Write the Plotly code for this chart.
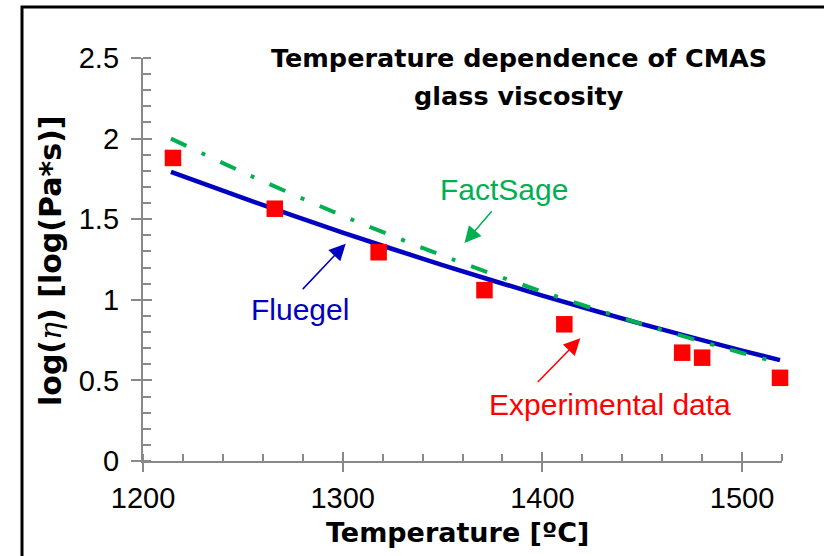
import plotly.graph_objects as go

# Measured viscosity of the CMAS glass
exp_temp = [1215, 1266, 1318, 1371, 1411, 1470, 1480, 1519]
exp_logeta = [1.88, 1.565, 1.295, 1.06, 0.848, 0.672, 0.641, 0.516]

# Fluegel model curve
fluegel_temp = [1214, 1250, 1300, 1350, 1400, 1450, 1500, 1519]
fluegel_logeta = [1.794, 1.632, 1.417, 1.215, 1.026, 0.849, 0.685, 0.626]

# FactSage model curve
factsage_temp = [1214, 1250, 1300, 1350, 1400, 1450, 1500, 1518]
factsage_logeta = [2.0, 1.791, 1.521, 1.274, 1.05, 0.849, 0.67, 0.612]

x_range = [1200, 1520]
y_range = [0, 2.5]

# Plot-area geometry in pixels
W, H = 824, 556
ML, MR, MT, MB = 143, 42, 58, 95
PW, PH = W - ML - MR, H - MT - MB


def px(x):
    return (x - ML) / PW


def py(y):
    return (H - MB - y) / PH


AXIS_GREY = "#898989"
BLUE = "#0000C0"
GREEN = "#00B050"
RED = "#FF0000"
REG = "Liberation Sans, Arial, sans-serif"
BOLD = "DejaVu Sans, sans-serif"

fig = go.Figure()

fig.add_trace(go.Scatter(
    x=fluegel_temp, y=fluegel_logeta, mode="lines", name="Fluegel",
    line=dict(color=BLUE, width=4.5, shape="spline", smoothing=0.6),
    cliponaxis=False,
))
fig.add_trace(go.Scatter(
    x=factsage_temp, y=factsage_logeta, mode="lines", name="FactSage",
    line=dict(color=GREEN, width=4, shape="spline", smoothing=0.6,
              dash="17px,16.7px,4px,16.7px"),
    cliponaxis=False,
))
fig.add_trace(go.Scatter(
    x=exp_temp, y=exp_logeta, mode="markers", name="Experimental data",
    marker=dict(symbol="square", size=16.5, color=RED, line=dict(width=0)),
    cliponaxis=False,
))
# carrier trace for the overlay axes that draw the inner halves of major ticks
fig.add_trace(go.Scatter(x=[None], y=[None], xaxis="x2", yaxis="y2",
                         showlegend=False, hoverinfo="skip"))

tick_font = dict(family=REG, size=29, color="black")

fig.update_layout(
    width=W, height=H,
    margin=dict(l=ML, r=MR, t=MT, b=MB, pad=0),
    paper_bgcolor="white", plot_bgcolor="white",
    showlegend=False,
    xaxis=dict(
        range=x_range, tick0=1200, dtick=100, showgrid=False, zeroline=False,
        showline=True, linecolor=AXIS_GREY, linewidth=2.25,
        ticks="outside", ticklen=9, tickwidth=2, tickcolor=AXIS_GREY,
        tickfont=tick_font, ticklabelstandoff=1,
        minor=dict(dtick=20, tick0=1200, ticks="inside", ticklen=7,
                   tickwidth=1.75, tickcolor=AXIS_GREY, showgrid=False),
    ),
    yaxis=dict(
        range=y_range, tick0=0, dtick=0.5, showgrid=False, zeroline=False,
        showline=True, linecolor=AXIS_GREY, linewidth=2.25,
        ticks="outside", ticklen=10, tickwidth=2, tickcolor=AXIS_GREY,
        tickfont=tick_font, ticklabelstandoff=6,
        minor=dict(dtick=0.1, tick0=0, ticks="inside", ticklen=7.5,
                   tickwidth=1.75, tickcolor=AXIS_GREY, showgrid=False),
    ),
    xaxis2=dict(
        range=x_range, overlaying="x", anchor="y2", side="bottom",
        tick0=1200, dtick=100, ticks="inside", ticklen=9, tickwidth=2,
        tickcolor=AXIS_GREY, showticklabels=False, showline=False,
        showgrid=False, zeroline=False,
    ),
    yaxis2=dict(
        range=y_range, overlaying="y", anchor="x2", side="left",
        tick0=0, dtick=0.5, ticks="inside", ticklen=9, tickwidth=2,
        tickcolor=AXIS_GREY, showticklabels=False, showline=False,
        showgrid=False, zeroline=False,
    ),
)

annotations = [
    # chart title, two lines
    dict(text="<b>Temperature dependence of CMAS</b>", x=px(519), y=py(58),
         font=dict(family=BOLD, size=25.5, color="black")),
    dict(text="<b>glass viscosity</b>", x=px(519), y=py(96),
         font=dict(family=BOLD, size=25.5, color="black")),
    # axis titles
    dict(text="<b>Temperature [ºC]</b>", x=px(457), y=py(532),
         font=dict(family=BOLD, size=27, color="black")),
    dict(text="<b>log(<span style=\"font-family:'DejaVu Serif';"
              "font-weight:normal;font-style:italic\">η</span>) "
              "[log(Pa*s)]</b>",
         x=px(50), y=py(261), textangle=-90,
         font=dict(family=BOLD, size=30, color="black")),
]
for a in annotations:
    a.update(xref="paper", yref="paper", showarrow=False,
             xanchor="center", yanchor="middle")

# series labels
labels = [
    ("FactSage", 1380.6, 1.682, GREEN),
    ("Fluegel", 1278.5, 0.937, BLUE),
    ("Experimental data", 1433.7, 0.353, RED),
]
for text, lx, ly, col in labels:
    annotations.append(dict(
        text=text, x=lx, y=ly, xref="x", yref="y", showarrow=False,
        xanchor="center", yanchor="middle",
        font=dict(family=REG, size=30, color=col),
    ))

# pointer arrows: (head T, head logη, tail T, tail logη, colour)
arrows = [
    (1361.0, 1.352, 1375.3, 1.559, GREEN),
    (1301.5, 1.348, 1279.3, 1.057, BLUE),
    (1419.0, 0.761, 1397.0, 0.481, RED),
]
for hx, hy, tx, ty, col in arrows:
    annotations.append(dict(
        text="", x=hx, y=hy, xref="x", yref="y",
        ax=tx, ay=ty, axref="x", ayref="y",
        showarrow=True, arrowhead=2, arrowsize=2.2, arrowwidth=1.5,
        arrowcolor=col, standoff=0, startstandoff=0,
    ))

fig.update_layout(annotations=annotations)

# outer frame (left and top edges)
fig.add_shape(
    type="path", xref="paper", yref="paper",
    path=f"M {px(22)},{py(580)} L {px(22)},{py(7)} L {px(850)},{py(7)}",
    line=dict(color="black", width=3),
)

fig.write_html("out.html")
